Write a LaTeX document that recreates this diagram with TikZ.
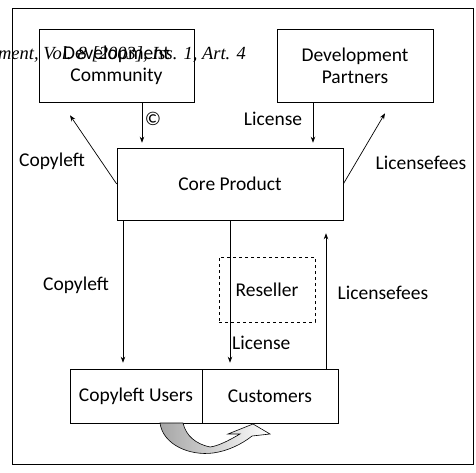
\documentclass[tikz,border=0pt]{standalone}
\usepackage{fontspec}
\setmainfont{Carlito}
\newfontfamily\hdrfont{Liberation Serif}
\usetikzlibrary{arrows.meta,positioning,shapes}

\begin{document}
\begin{tikzpicture}[x=1pt,y=-1pt,
    blk/.style={draw, rectangle, inner sep=0pt, align=center, font=\fontsize{19.5}{22}\selectfont, line width=0.6pt},
    arr/.style={-{Stealth[length=6pt,width=4.5pt]}, line width=0.7pt},
    lbl/.style={font=\fontsize{19.5}{22}\selectfont, inner sep=0pt}]
    \useasboundingbox (0,0) rectangle (476,473);
    \draw[line width=0.8pt] (12,8) rectangle (473,464);

    % running header of the scanned page
    \node[font=\hdrfont\itshape\fontsize{18.5}{20}\selectfont, anchor=east, inner sep=0pt] (header) at (246,55) {ment, Vol. 8 [2003], Iss. 1, Art. 4};

    \node[blk, minimum width=155pt, minimum height=73pt] (devcomm) at (116.5,65.5) {Development\\Community};
    \node[blk, minimum width=156pt, minimum height=73pt] (devpart) at (355,65.5) {Development\\Partners};
    \node[blk, minimum width=226pt, minimum height=72pt] (core) at (230,184) {Core Product};
    \node[blk, dashed, minimum width=96pt, minimum height=65pt] (reseller) at (267,289.5) {Reseller};
    \node[blk, minimum width=132pt, minimum height=54pt] (cusers) at (136,396) {Copyleft Users};
    \node[blk, minimum width=136pt, minimum height=54pt] (customers) at (270,396) {Customers};

    % top connectors
    \draw[arr, shorten >=5pt] ([xshift=25.5pt]devcomm.south) -- ([xshift=25.5pt]devcomm.south |- core.north);
    \draw[arr, shorten >=5pt] ([xshift=-42pt]devpart.south) -- ([xshift=-42pt]devpart.south |- core.north);
    \draw[arr] (core.west) -- ([xshift=-46.5pt,yshift=-13pt]devcomm.south);
    \draw[arr] (core.east) -- ([xshift=30pt,yshift=-11pt]devpart.south);

    % bottom connectors
    \draw[arr, shorten >=6pt] ([xshift=-107pt]core.south) -- ([xshift=-107pt]core.south |- cusers.north);
    \draw[arr, shorten >=6pt] (core.south) -- (core.south |- customers.north);
    \draw[arr, shorten >=13pt] ([xshift=56pt]customers.north) -- ([xshift=56pt]customers.north |- core.south);

    \node[lbl] (copy) at (153,119) {\textcopyright};
    \node[lbl] (lictop) at (273,119) {License};
    \node[lbl] (cltop) at (52,161) {Copyleft};
    \node[lbl] (feetop) at (421,163) {Licensefees};
    \node[lbl] (clbot) at (76,285) {Copyleft};
    \node[lbl] (feebot) at (383,293) {Licensefees};
    \node[lbl, anchor=west] (licbot) at (232,343) {License};

    % curved arrow from copyleft users to customers
    \shade[left color=gray!70, right color=white, draw, line width=0.6pt]
        (160,423) .. controls (163,445) and (190,456) .. (213,453)
        .. controls (228,451) and (242,444) .. (252,436)
        -- (270,434) -- (253,424) -- (228,434) -- (240,434)
        .. controls (228,441) and (218,446) .. (210,447)
        .. controls (196,444) and (186,436) .. (183,423) -- cycle;
\end{tikzpicture}
\end{document}
